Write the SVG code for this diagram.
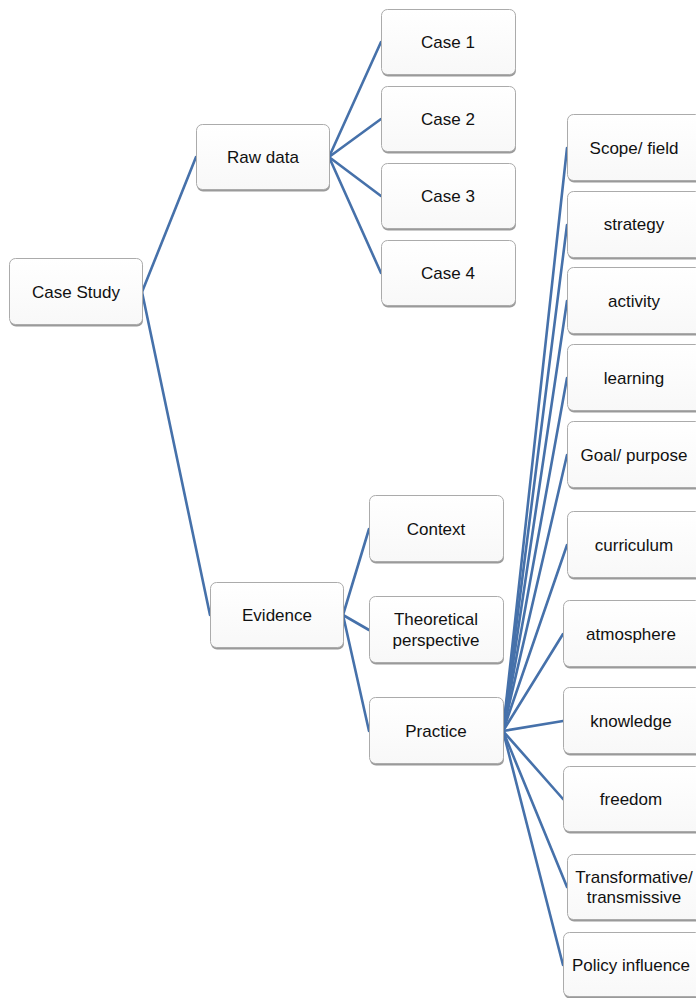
<svg xmlns="http://www.w3.org/2000/svg" width="696" height="998" viewBox="0 0 696 998">
<defs>
<linearGradient id="g" x1="0" y1="0" x2="0" y2="1">
<stop offset="0" stop-color="#ffffff"/>
<stop offset="1" stop-color="#f8f8f8"/>
</linearGradient>
</defs>
<style>
.sh{fill:#9a9a9a;}
.bx{fill:url(#g);stroke:#ababab;stroke-width:1;}
.t{font-family:"Liberation Sans",Arial,sans-serif;font-size:17px;fill:#111;text-anchor:middle;}
.c{stroke:#4671AA;stroke-width:2.6;fill:none;stroke-linecap:round;}
</style>
<rect width="696" height="998" fill="#ffffff"/>
<g id="connectors">
<line class="c" x1="142" y1="292" x2="196" y2="157"/>
<line class="c" x1="142" y1="292" x2="210" y2="615"/>
<line class="c" x1="329" y1="157" x2="381" y2="42"/>
<line class="c" x1="329" y1="157" x2="381" y2="119"/>
<line class="c" x1="329" y1="157" x2="381" y2="196"/>
<line class="c" x1="329" y1="157" x2="381" y2="273"/>
<line class="c" x1="343" y1="615" x2="369" y2="529"/>
<line class="c" x1="343" y1="615" x2="369" y2="630"/>
<line class="c" x1="343" y1="615" x2="369" y2="731"/>
<line class="c" x1="503" y1="731" x2="567" y2="148"/>
<line class="c" x1="503" y1="731" x2="567" y2="225"/>
<line class="c" x1="503" y1="731" x2="567" y2="301"/>
<line class="c" x1="503" y1="731" x2="567" y2="378"/>
<line class="c" x1="503" y1="731" x2="567" y2="455"/>
<line class="c" x1="503" y1="731" x2="567" y2="545"/>
<line class="c" x1="503" y1="731" x2="563" y2="634"/>
<line class="c" x1="503" y1="731" x2="563" y2="721"/>
<line class="c" x1="503" y1="731" x2="563" y2="799"/>
<line class="c" x1="503" y1="731" x2="567" y2="887"/>
<line class="c" x1="503" y1="731" x2="563" y2="965"/>
</g>
<g id="n-case-study"><rect class="sh" x="10" y="260.5" width="133" height="66" rx="6"/><rect class="bx" x="9.5" y="258.5" width="133" height="66" rx="6"/><text class="t" x="76" y="298">Case Study</text></g>
<g id="n-raw-data"><rect class="sh" x="197" y="126.5" width="133" height="65" rx="6"/><rect class="bx" x="196.5" y="124.5" width="133" height="65" rx="6"/><text class="t" x="263" y="163">Raw data</text></g>
<g id="n-case1"><rect class="sh" x="382" y="11.5" width="134" height="65" rx="6"/><rect class="bx" x="381.5" y="9.5" width="134" height="65" rx="6"/><text class="t" x="448" y="48">Case 1</text></g>
<g id="n-case2"><rect class="sh" x="382" y="88.5" width="134" height="65" rx="6"/><rect class="bx" x="381.5" y="86.5" width="134" height="65" rx="6"/><text class="t" x="448" y="125">Case 2</text></g>
<g id="n-case3"><rect class="sh" x="382" y="165.5" width="134" height="65" rx="6"/><rect class="bx" x="381.5" y="163.5" width="134" height="65" rx="6"/><text class="t" x="448" y="202">Case 3</text></g>
<g id="n-case4"><rect class="sh" x="382" y="242.5" width="134" height="65" rx="6"/><rect class="bx" x="381.5" y="240.5" width="134" height="65" rx="6"/><text class="t" x="448" y="279">Case 4</text></g>
<g id="n-evidence"><rect class="sh" x="211" y="584.5" width="133" height="65" rx="6"/><rect class="bx" x="210.5" y="582.5" width="133" height="65" rx="6"/><text class="t" x="277" y="621">Evidence</text></g>
<g id="n-context"><rect class="sh" x="370" y="497.5" width="134" height="66" rx="6"/><rect class="bx" x="369.5" y="495.5" width="134" height="66" rx="6"/><text class="t" x="436" y="535">Context</text></g>
<g id="n-theoretical"><rect class="sh" x="370" y="598.5" width="134" height="66" rx="6"/><rect class="bx" x="369.5" y="596.5" width="134" height="66" rx="6"/><text class="t" x="436" y="625">Theoretical</text><text class="t" x="436" y="646">perspective</text></g>
<g id="n-practice"><rect class="sh" x="370" y="699.5" width="134" height="66" rx="6"/><rect class="bx" x="369.5" y="697.5" width="134" height="66" rx="6"/><text class="t" x="436" y="737">Practice</text></g>
<g id="n-scope"><rect class="sh" x="568" y="116.5" width="134" height="66" rx="6"/><rect class="bx" x="567.5" y="114.5" width="134" height="66" rx="6"/><text class="t" x="634" y="154">Scope/ field</text></g>
<g id="n-strategy"><rect class="sh" x="568" y="193.5" width="134" height="66" rx="6"/><rect class="bx" x="567.5" y="191.5" width="134" height="66" rx="6"/><text class="t" x="634" y="230">strategy</text></g>
<g id="n-activity"><rect class="sh" x="568" y="269.5" width="134" height="66" rx="6"/><rect class="bx" x="567.5" y="267.5" width="134" height="66" rx="6"/><text class="t" x="634" y="307">activity</text></g>
<g id="n-learning"><rect class="sh" x="568" y="346.5" width="134" height="66" rx="6"/><rect class="bx" x="567.5" y="344.5" width="134" height="66" rx="6"/><text class="t" x="634" y="384">learning</text></g>
<g id="n-goal"><rect class="sh" x="568" y="423.5" width="134" height="66" rx="6"/><rect class="bx" x="567.5" y="421.5" width="134" height="66" rx="6"/><text class="t" x="634" y="461">Goal/ purpose</text></g>
<g id="n-curriculum"><rect class="sh" x="568" y="513.5" width="134" height="66" rx="6"/><rect class="bx" x="567.5" y="511.5" width="134" height="66" rx="6"/><text class="t" x="634" y="551">curriculum</text></g>
<g id="n-atmosphere"><rect class="sh" x="564" y="602.5" width="138" height="66" rx="6"/><rect class="bx" x="563.5" y="600.5" width="138" height="66" rx="6"/><text class="t" x="631" y="640">atmosphere</text></g>
<g id="n-knowledge"><rect class="sh" x="564" y="689.5" width="138" height="66" rx="6"/><rect class="bx" x="563.5" y="687.5" width="138" height="66" rx="6"/><text class="t" x="631" y="727">knowledge</text></g>
<g id="n-freedom"><rect class="sh" x="564" y="768.5" width="138" height="65" rx="6"/><rect class="bx" x="563.5" y="766.5" width="138" height="65" rx="6"/><text class="t" x="631" y="805">freedom</text></g>
<g id="n-transformative"><rect class="sh" x="568" y="856.5" width="134" height="65" rx="6"/><rect class="bx" x="567.5" y="854.5" width="134" height="65" rx="6"/><text class="t" x="634" y="883">Transformative/</text><text class="t" x="634" y="903">transmissive</text></g>
<g id="n-policy"><rect class="sh" x="564" y="934.5" width="138" height="64" rx="6"/><rect class="bx" x="563.5" y="932.5" width="138" height="64" rx="6"/><text class="t" x="631" y="971">Policy influence</text></g>
</svg>
